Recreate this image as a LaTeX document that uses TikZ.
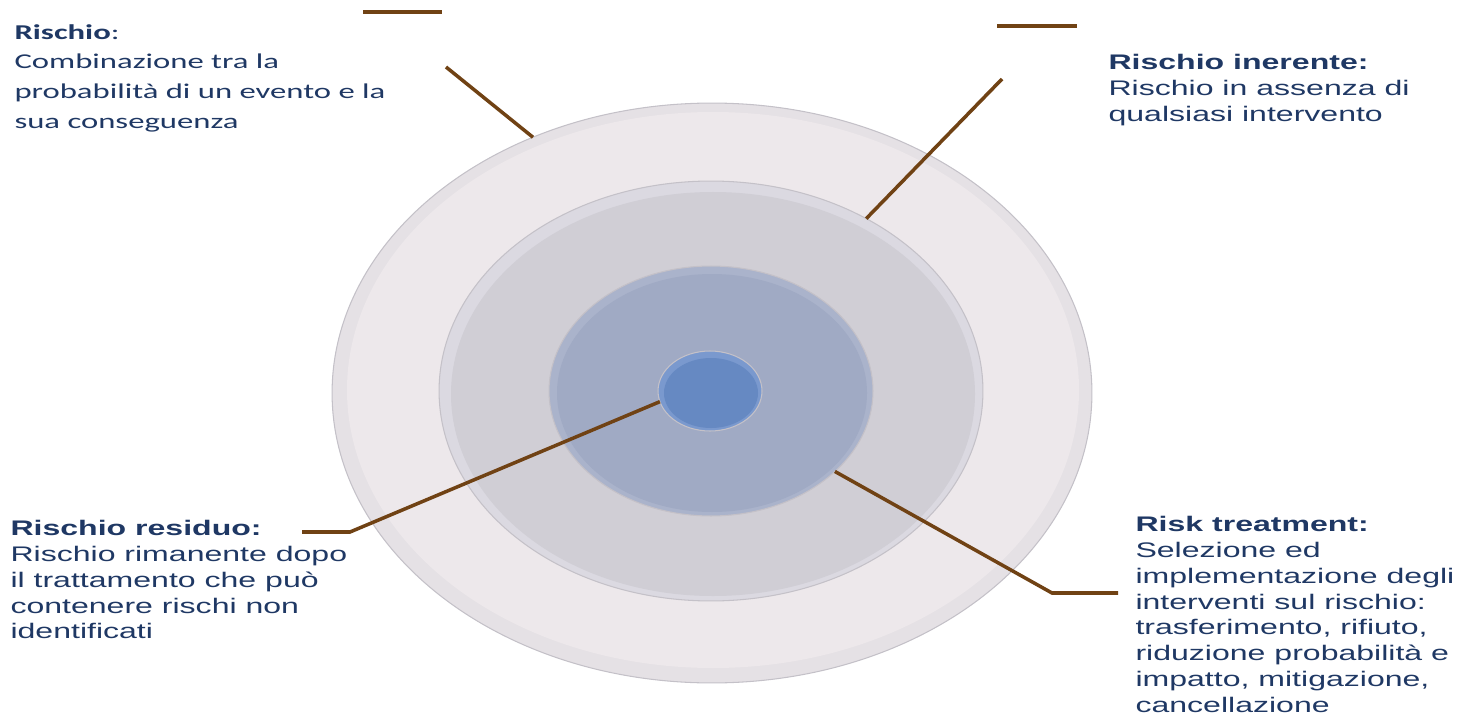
\documentclass[tikz,border=0pt]{standalone}
\usepackage{fontspec}
\setmainfont{Liberation Sans}
\newfontfamily\calibri{Carlito}
\usetikzlibrary{shapes.geometric}

\definecolor{txtblue}{RGB}{31,56,100}
\definecolor{leaderbrown}{RGB}{112,66,20}
\definecolor{discedge}{RGB}{196,193,200}
\definecolor{outerrim}{RGB}{229,225,229}
\definecolor{outerfill}{RGB}{237,232,235}
\definecolor{greyrim}{RGB}{219,217,225}
\definecolor{greyfill}{RGB}{208,206,213}
\definecolor{bluerim}{RGB}{170,179,203}
\definecolor{bluefill}{RGB}{160,170,196}
\definecolor{corerim}{RGB}{122,153,206}
\definecolor{corefill}{RGB}{102,137,194}

\begin{document}
\begin{tikzpicture}[
    x=0.02cm, y=-0.02cm,
    disc/.style={ellipse, draw=discedge, line width=0.6pt, inner sep=0pt, outer sep=0pt},
    leader/.style={draw=leaderbrown, line width=2pt},
    descr/.style={anchor=north west, align=left, inner sep=0pt, text=txtblue, xscale=1.52,
                  font=\fontsize{12}{14.7}\selectfont}
  ]
    \useasboundingbox (0,0) rectangle (1459,716);

    % concentric discs
    \node[disc, fill=outerrim, minimum width=15.2cm, minimum height=11.6cm] (outer) at (712,393) {};
    \fill[outerfill] (713,390) ellipse [x radius=366, y radius=278];
    \node[disc, fill=greyrim, minimum width=10.88cm, minimum height=8.4cm] (grey) at (711,391) {};
    \fill[greyfill] (713,394) ellipse [x radius=262, y radius=202];
    \node[disc, fill=bluerim, minimum width=6.48cm, minimum height=5cm] (blue) at (711,391) {};
    \fill[bluefill] (712,393) ellipse [x radius=155, y radius=119];
    \node[disc, fill=corerim, minimum width=2.08cm, minimum height=1.6cm] (core) at (710,391) {};
    \fill[corefill] (711,393) ellipse [x radius=47, y radius=35];

    % descriptions
    \node[descr, xscale=1.02, font=\calibri\fontsize{12}{16.9}\selectfont] (rischio) at (14,24)
      {\textbf{Rischio}:\\Combinazione tra la\\probabilità di un evento e la\\sua conseguenza};
    \node[descr] (inerente) at (1108,54)
      {\textbf{Rischio inerente:}\\Rischio in assenza di\\qualsiasi intervento};
    \node[descr] (residuo) at (10,520)
      {\textbf{Rischio residuo:}\\Rischio rimanente dopo\\il trattamento che può\\contenere rischi non\\identificati};
    \node[descr] (treatment) at (1135,516)
      {\textbf{Risk treatment:}\\Selezione ed\\implementazione degli\\interventi sul rischio:\\trasferimento, rifiuto,\\riduzione probabilità e\\impatto, mitigazione,\\cancellazione};

    % leaders
    \coordinate (rbarL) at (363,12);
    \coordinate (rbarR) at (442,12);
    \coordinate (rdiag) at (446,67);
    \coordinate (ibarL) at (997,26);
    \coordinate (ibarR) at (1077,26);
    \coordinate (idiag) at (1002,79);
    \coordinate (resEnd) at (302,532);
    \coordinate (resBend) at (350,532);
    \coordinate (trBend) at (1052,593);
    \coordinate (trEnd) at (1118,593);

    \draw[leader] (rbarL) -- (rbarR);
    \draw[leader] (rdiag) -- (outer.125);
    \draw[leader] (ibarL) -- (ibarR);
    \draw[leader] (idiag) -- (grey.48);
    \draw[leader] (resEnd) -- (resBend) -- (core.192);
    \draw[leader] (blue.-33) -- (trBend) -- (trEnd);
  \end{tikzpicture}
\end{document}
